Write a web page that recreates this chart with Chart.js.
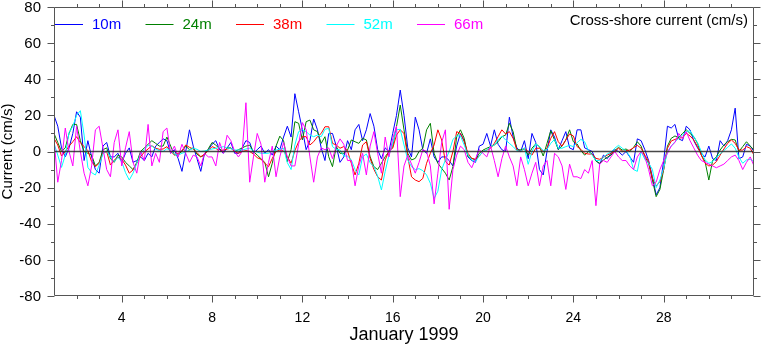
<!DOCTYPE html>
<html><head><meta charset="utf-8">
<script src="https://cdn.jsdelivr.net/npm/chart.js@4.4.1/dist/chart.umd.min.js"></script>
<style>html,body{margin:0;padding:0;background:#fff;}#wrap{width:762px;height:346px;}</style>
</head><body><div id="wrap"><canvas id="c" width="762" height="346"></canvas></div>
<script>
// time grid: January 1999, day 1 .. 32, every 4 hours
const firstDay = 1, samplesPerDay = 6;
const seriesNames = ["10m", "24m", "38m", "52m", "66m"];
const seriesColors = ["#0000ff", "#008000", "#ff0000", "#00ffff", "#ff00ff"];
const xTickDays = [4, 8, 12, 16, 20, 24, 28];
const yTickValues = [-80, -60, -40, -20, 0, 20, 40, 60, 80];
const chartTitle = "Cross-shore current (cm/s)";
const xTitle = "January 1999";
const yTitle = "Current (cm/s)";

const cur10m = [
 20,14,2,-3,2,10, 22,19,-5,6,-3,-10, -12,3,5,-3,-3,-1, -6,-1,2,-6,-5,-3, -5,-1,-3,3,5,7,
 6,-1,1,-4,-11,0, 12,3,-4,-11,-1,1, 4,6,1,-1,2,5, -1,-1,2,6,5,-1, 1,3,-1,1,-2,3,
 1,8,14,8,32,22, 12,1,6,18,12,2, -5,10,10,3,-6,-3, 6,1,12,15,6,12, 21,14,1,-4,2,0,
 10,20,34,20,2,-3, 19,12,1,-1,7,-3, -6,-3,-3,-5,-8,3, 10,6,-3,-5,-6,3, 4,10,3,12,4,1,
 0,19,8,2,0,6, -4,10,5,-10,-13,0, 12,8,1,6,11,2, 1,12,12,2,1,0, -5,-7,-2,-4,-1,1,
 0,-2,0,-3,-6,7, 6,1,-5,-14,-24,-20, -5,14,13,15,7,6, 14,12,6,2,-1,-3, 3,-4,-5,6,3,6,
 12,24,-4,-3,4,3, 0];
const cur24m = [
 10,5,0,2,10,15, 15,6,0,-1,-2,-8, -6,1,2,-4,-6,-2, -3,-6,-8,-10,-6,0, 2,4,6,4.5,3,3,
 8,3,-2,-1.5,0,3, 1,2,-1.5,-3,-2,1.5, 5,3.5,1.5,0,2,2, 0,1,2,3,3.5,0, -2,-4,-6,-14,-6.5,3,
 8.5,6,-5.6,1,16.5,15.6, 6.4,16.5,17.4,12,11,4.5, 8.2,-2.9,-8.4,2.7,-1,-1, 0.8,6.4,5.4,4.5,7.3,6.4, -2.9,-8.4,-10,-6.5,-2.9,0,
 2.7,13.7,25.7,12,-1,-4.7, -3.8,0,1.8,12,15.6,-1, -6.5,-9.3,-12,-15.8,-8.4,8.2, 12,7.3,-2.9,-3.8,-4.7,-1, 0.8,1.8,2.7,3.6,5.4,8.2,
 9.1,15.6,11,0.8,1,1.5, -2,1.8,4.2,2.7,-2.5,4.5, 11.5,6.4,1.2,3,6.4,12, 5.4,4.2,0.5,-2,0,-1.4, -5.3,-6.5,-4.7,-3.2,-2,0.5,
 2.3,0.8,1.4,0,2.3,5.4, 3,-2.9,-6.5,-15.8,-25,-21, -10,3,7.3,8.6,7.7,10, 12,10,8.2,4.5,-2,-5.6, -15.8,-5,-2.9,0.8,3.6,5.4,
 6.7,6.4,0,2.7,5.4,3, 0.8];
const cur38m = [
 7.3,3.6,-2.5,0,3,5.4, 8.2,4.9,2.7,0.5,-5.6,-8.4, -6.5,-1,0,-7.5,-4.7,-3.2, -4.3,-7.5,-12,-10.2,-6.5,-2.9, -0.3,1.4,3.2,1.8,1.2,1.4,
 2.7,0,-1.8,-1,0.5,3.6, 2.3,1.4,-0.6,-2.9,-1.4,0.5, 2.7,1.8,0,0.8,1.4,1.8, 0,-1,0,0.5,0,-1.4, -3.4,-4.3,-6.5,-8.4,-3.8,0,
 0.8,0.3,-2.9,-6.5,0.5,5.4, 8.2,8.2,3.6,5.4,8.2,10, 13.7,13.7,4.5,3.6,1.8,2.7, 0.3,-6.5,-13,-6.5,3.6,5.4, -3.8,-9.9,-14,-15.8,-4.7,0.3,
 1.8,9.1,12,10,-2.9,-14, -15.8,-16.7,-14.9,-6.5,-1,3.6, 12,6.4,-5.6,-7.5,0,11, 10,5.4,-1,-3.8,-4.3,-2.5, 0,0.8,1.8,4.5,8.2,12,
 9.7,11,7.3,0.8,0,1.8, 0,-2,1.8,1.8,0,1.8, 7.3,11,5.4,3,6.4,9.7, 8.6,2.7,1.2,-1,-1.4,-1.4, -3.8,-4.3,-3.2,-2,-1,0,
 1.8,0,0.5,0.8,2.1,3.4, 1.8,-2,-5.6,-14.9,-19,-16.7, -10,1.8,5.8,6.7,7.3,7.8, 10,8.6,6.4,2.7,-2,-6.5, -8,-7.5,-5.6,-2,1.4,4.5,
 6.4,4.5,0.8,0.8,2.7,1.8, -2];
const cur52m = [
 4.5,-2,-8.8,-2,10.4,14, 20,22.6,9.1,-8.8,-11.7,-13, -7.5,-1.4,0.5,-3.2,-5.6,-3.2, -5.6,-11.7,-15.8,-12,-6.5,-1.4, 1.2,3.4,3,1.4,0.5,0,
 1.6,0.5,-1.4,-2,-1,-0.3, 0.8,1.8,1.2,0,0.3,0.8, 1.4,1.8,2.1,2.7,1.9,1.6, 0.8,0.8,0.8,1.4,1.8,0.5, -0.3,-1,-1,-1,0,0.8,
 1.2,1.8,-6.2,-10,3.6,11, 12,11,9.1,8.2,9.1,8.2, 12.3,12.8,2.7,1.2,0.8,-2.5, -2.5,-4.7,-10,-13,-2.9,-1.4, -6.2,-8.4,-13.6,-21.3,-11,-2,
 4.5,12,12.3,3.6,-4.7,-8.4, -10,-9.5,-10.6,-13,-17.6,-26, -22,-10,-4.7,0,6.7,8.6, 8.6,3.6,-2,-4.7,-5.6,-2.5, 0,0.8,2.7,3.6,6.4,8.6,
 6.4,4.5,2.7,0.5,0,2, -7.1,0,4.2,2.7,0.5,1.2, 4.5,6.7,1.8,1.8,2.7,3.4, 2.7,4.9,6.7,5.4,0.5,-2, -5,-5,-3.2,-1.4,-0.3,1.8,
 3.4,1.8,0.3,-2.5,-10,-11, 0,-4.3,-6.5,-9.9,-20,-15.8, -9.3,0,3,5.4,7.3,9.1, 11,11.5,8.2,4.9,0,-4.7, -6.5,-5.6,-3.2,-1.4,0.5,2.3,
 4.2,1.8,-3.2,-6.5,-4.7,-4.3, -5.6];
const cur66m = [
 7,-17,-5,13,0,-8, 14,0,-12,-19,-8,12, 14,2,-10,-14,5,12, -8,2,11,-6,-12,0, -5,15,-8,-1,-6,11,
 13,-1,3,-3,4,-1, -6,-2,-3,-8,-1,-3, -3,-8,5,-1,9,6, 0,-3,0,27,-17,-3, 10,4,-17,-6,3,-14,
 -3,5,-3,-8,-8,4, 16,12,-3,-17,-3,2, 1,2,-4,3,7,4, -5,-5,-19,-8,-1,-13, 3,11,-1,-12,8,-3,
 7,14,-25,-8,-2,-7, -12,-6,1,0,-8,-29, -12,5,12,-32,-10,-2, 3,1,-6,-9,-4,1, -1,-3,3,-5,-14,-4,
 3,-3,-8,-19,-3,-10, -19,-12,-6,-19,-8,-5, -19,-1,-3,-8,-21,-7, -14,-14,-15,-10,-12,-5, -30,-7,-5,-6,-3,0,
 -3,-5,-5,-8,-10,-3, 0,-3,-10,-19,-17,-10, -5,-1,3,5,10,7, 11,6,2,-2,-5,-6, -7,-8,-9,-8,-7,-5,
 -3,-2,-5,-10,-6,-3, -8];

const allSeries = [cur10m, cur24m, cur38m, cur52m, cur66m];
const FONT = "'Liberation Sans', Arial, Helvetica, sans-serif";
Chart.defaults.font.family = FONT;
Chart.defaults.color = '#000';

const datasets = allSeries.map((vals, k) => ({
  label: seriesNames[k],
  data: vals.map((v, i) => ({ x: firstDay + i / samplesPerDay, y: v })),
  borderColor: seriesColors[k],
  backgroundColor: seriesColors[k],
  borderWidth: 1,
  pointRadius: 0,
  tension: 0,
  order: allSeries.length - 1 - k
}));

const decor = {
  id: 'decor',
  afterDatasetsDraw(chart) {
    const { ctx, chartArea: a, scales: { x, y } } = chart;
    ctx.save();
    const L = Math.round(a.left) + 0.5, R = Math.round(a.right) - 0.5;
    const T = Math.round(a.top) + 0.5, B = Math.round(a.bottom) - 0.5;
    // zero line
    const y0 = y.getPixelForValue(0);
    ctx.strokeStyle = 'rgba(40,40,40,0.85)'; ctx.lineWidth = 1.6;
    ctx.beginPath(); ctx.moveTo(L, y0); ctx.lineTo(R, y0); ctx.stroke();
    // frame
    ctx.strokeStyle = '#555'; ctx.lineWidth = 1;
    ctx.beginPath();
    ctx.moveTo(L, T); ctx.lineTo(R, T); ctx.lineTo(R, B); ctx.lineTo(L, B); ctx.closePath();
    ctx.stroke();
    // x ticks (every day, major at labelled days)
    ctx.beginPath();
    for (let d = Math.ceil(x.min) + 1; d < x.max; d++) {
      const px = Math.round(x.getPixelForValue(d)) + 0.5;
      const len = xTickDays.includes(d) ? 7 : 3.5;
      ctx.moveTo(px, B); ctx.lineTo(px, B + len);
      ctx.moveTo(px, T); ctx.lineTo(px, T - len);
    }
    // y ticks (every 10, major every 20)
    for (let v = y.min + 10; v < y.max; v += 10) {
      const py = Math.round(y.getPixelForValue(v)) + 0.5;
      const len = yTickValues.includes(v) ? 7 : 3.5;
      ctx.moveTo(L, py); ctx.lineTo(L - len, py);
      ctx.moveTo(R, py); ctx.lineTo(R + len, py);
    }
    for (const v of [y.min, y.max]) {
      const py = Math.round(y.getPixelForValue(v)) + 0.5;
      ctx.moveTo(L, py); ctx.lineTo(L - 7, py);
      ctx.moveTo(R, py); ctx.lineTo(R + 7, py);
    }
    ctx.stroke();
    // y tick labels
    ctx.fillStyle = '#000';
    ctx.font = '15px ' + FONT;
    ctx.textAlign = 'right'; ctx.textBaseline = 'middle';
    yTickValues.forEach(v => ctx.fillText(String(v), a.left - 13, y.getPixelForValue(v) + 0.5));
    // legend
    ctx.textAlign = 'left';
    chart.data.datasets.forEach((ds, k) => {
      const x0 = a.left + 1 + k * 90.5, yy = a.top + 17.5;
      ctx.strokeStyle = ds.borderColor; ctx.lineWidth = 1;
      ctx.beginPath(); ctx.moveTo(x0, yy); ctx.lineTo(x0 + 28, yy); ctx.stroke();
      ctx.fillStyle = ds.borderColor;
      ctx.fillText(ds.label, x0 + 37, yy + 0.5);
    });
    // title inside plot
    ctx.fillStyle = '#000'; ctx.textAlign = 'right';
    ctx.fillText(chartTitle, a.right - 6, a.top + 14);
    ctx.restore();
  }
};

new Chart(document.getElementById('c'), {
  type: 'line',
  data: { datasets },
  options: {
    responsive: false, animation: false, devicePixelRatio: 1,
    layout: { padding: { left: 0, right: 8, top: 7, bottom: 0 } },
    plugins: { legend: { display: false }, tooltip: { enabled: false }, title: { display: false } },
    scales: {
      x: {
        type: 'linear', min: 1, max: 32,
        afterBuildTicks: s => { s.ticks = xTickDays.map(v => ({ value: v })); },
        afterFit: s => { s.height = 50; },
        grid: { display: false, drawTicks: false }, border: { display: false },
        ticks: { font: { size: 14 }, color: '#000', padding: 14, maxRotation: 0, autoSkip: false },
        title: { display: true, text: xTitle, font: { size: 18, lineHeight: 1.2 }, color: '#000', padding: { top: 0, bottom: 0 } }
      },
      y: {
        min: -80, max: 80,
        afterBuildTicks: s => { s.ticks = yTickValues.map(v => ({ value: v })); },
        afterFit: s => { s.width = 54; },
        grid: { display: false, drawTicks: false }, border: { display: false },
        ticks: { display: false },
        title: { display: true, text: yTitle, font: { size: 15, lineHeight: 1 }, color: '#000', padding: { top: 0, bottom: 0 } }
      }
    }
  },
  plugins: [decor]
});
</script></body></html>
